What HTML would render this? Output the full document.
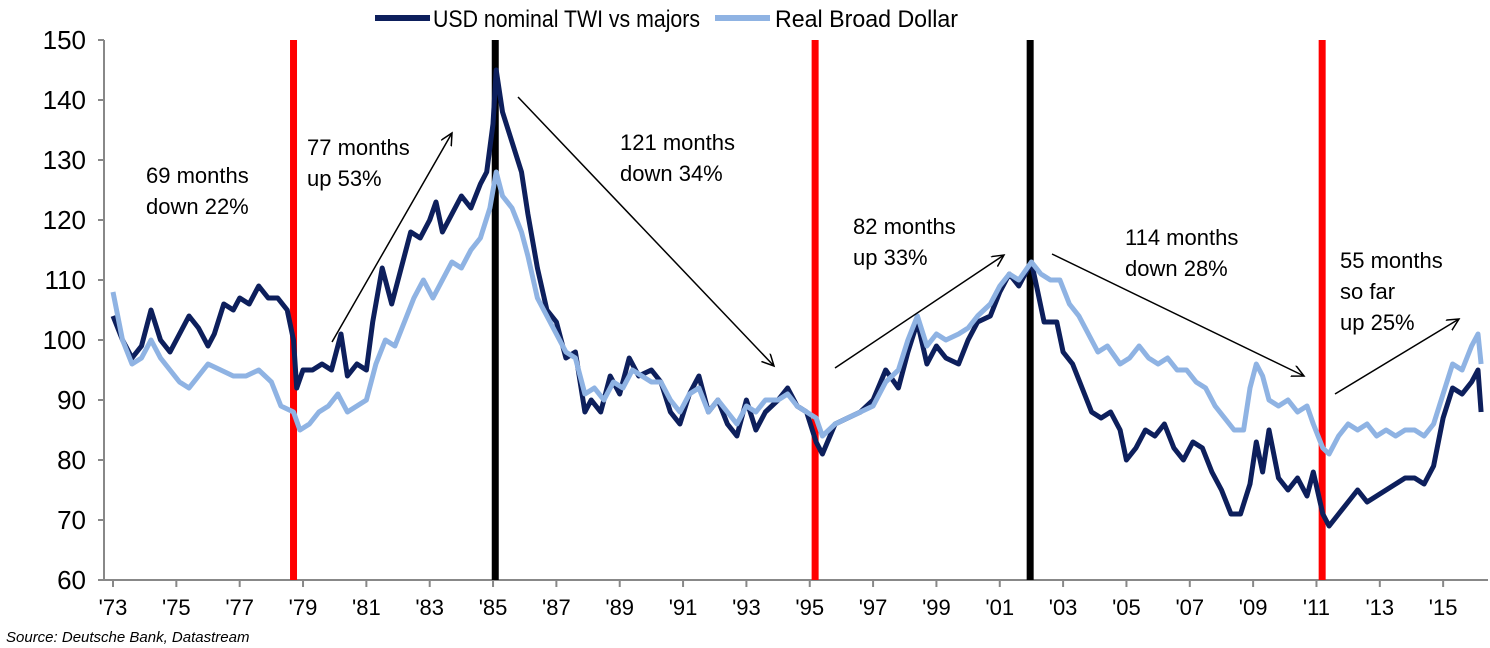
<!DOCTYPE html>
<html><head><meta charset="utf-8"><style>
body{margin:0;background:#fff;}
svg{display:block;font-family:"Liberation Sans",Arial,sans-serif;}
.ann{font-size:22px;fill:#000;}
</style></head><body>
<svg id="chart" width="1490" height="648">
<defs><marker id="ah" markerWidth="14" markerHeight="14" refX="12" refY="6" orient="auto" markerUnits="userSpaceOnUse"><path d="M0,0 L12,6 L0,12" fill="none" stroke="#000" stroke-width="1.5"/></marker></defs>
<g id="axes"></g>
<g id="vlines"></g>
<g id="series"></g>
<g>
<line x1="375" y1="18" x2="430" y2="18" stroke="#0d1f5c" stroke-width="6"/>
<text x="433" y="27" font-size="24" textLength="267" lengthAdjust="spacingAndGlyphs">USD nominal TWI vs majors</text>
<line x1="715" y1="18" x2="770" y2="18" stroke="#8fb3e3" stroke-width="6"/>
<text x="775" y="27" font-size="24" textLength="183" lengthAdjust="spacingAndGlyphs">Real Broad Dollar</text>
</g>
<g>
<text class="ann" x="146" y="183">69 months</text><text class="ann" x="146" y="214">down 22%</text>
<text class="ann" x="307" y="155">77 months</text><text class="ann" x="307" y="186">up 53%</text>
<text class="ann" x="620" y="150">121 months</text><text class="ann" x="620" y="181">down 34%</text>
<text class="ann" x="853" y="234">82 months</text><text class="ann" x="853" y="265">up 33%</text>
<text class="ann" x="1125" y="245">114 months</text><text class="ann" x="1125" y="276">down 28%</text>
<text class="ann" x="1340" y="268">55 months</text><text class="ann" x="1340" y="299">so far</text><text class="ann" x="1340" y="330">up 25%</text>
<line x1="332" y1="342" x2="452" y2="133" stroke="#000" stroke-width="1.5" marker-end="url(#ah)"/>
<line x1="518" y1="97" x2="774" y2="366" stroke="#000" stroke-width="1.5" marker-end="url(#ah)"/>
<line x1="835" y1="368" x2="1004" y2="255" stroke="#000" stroke-width="1.5" marker-end="url(#ah)"/>
<line x1="1052" y1="254" x2="1304" y2="376" stroke="#000" stroke-width="1.5" marker-end="url(#ah)"/>
<line x1="1335" y1="394" x2="1459" y2="319" stroke="#000" stroke-width="1.5" marker-end="url(#ah)"/>
</g>
<text x="6" y="642" font-size="15" font-style="italic">Source: Deutsche Bank, Datastream</text>
</svg>
<script>
const yTicks=[60,70,80,90,100,110,120,130,140,150];
const xTickYears=[1973,1975,1977,1979,1981,1983,1985,1987,1989,1991,1993,1995,1997,1999,2001,2003,2005,2007,2009,2011,2013,2015];
const eventYears=[1978.7,1985.07,1995.17,2001.96,2011.18];
const eventKinds=["trough","peak","trough","peak","trough"];
const nomT=[1973.0,1973.3,1973.6,1973.9,1974.2,1974.5,1974.8,1975.1,1975.4,1975.7,1976.0,1976.2,1976.5,1976.8,1977.0,1977.3,1977.6,1977.9,1978.2,1978.5,1978.7,1978.8,1979.0,1979.3,1979.6,1979.9,1980.2,1980.4,1980.7,1981.0,1981.2,1981.5,1981.8,1982.1,1982.4,1982.7,1983.0,1983.2,1983.4,1983.7,1984.0,1984.3,1984.6,1984.8,1985.0,1985.1,1985.3,1985.6,1985.9,1986.1,1986.4,1986.7,1987.0,1987.3,1987.6,1987.9,1988.1,1988.4,1988.7,1989.0,1989.3,1989.6,1990.0,1990.3,1990.6,1990.9,1991.2,1991.5,1991.8,1992.1,1992.4,1992.7,1993.0,1993.3,1993.6,1994.0,1994.3,1994.6,1994.9,1995.2,1995.4,1995.8,1996.2,1996.6,1997.0,1997.4,1997.8,1998.1,1998.4,1998.7,1999.0,1999.3,1999.7,2000.0,2000.3,2000.7,2001.0,2001.3,2001.6,2002.0,2002.2,2002.4,2002.8,2003.0,2003.3,2003.6,2003.9,2004.2,2004.5,2004.8,2005.0,2005.3,2005.6,2005.9,2006.2,2006.5,2006.8,2007.1,2007.4,2007.7,2008.0,2008.3,2008.6,2008.9,2009.1,2009.3,2009.5,2009.8,2010.1,2010.4,2010.7,2010.9,2011.2,2011.4,2011.7,2012.0,2012.3,2012.6,2012.9,2013.2,2013.5,2013.8,2014.1,2014.4,2014.7,2015.0,2015.3,2015.6,2015.9,2016.1,2016.2];
const nomV=[104,100,97,99,105,100,98,101,104,102,99,101,106,105,107,106,109,107,107,105,100,92,95,95,96,95,101,94,96,95,103,112,106,112,118,117,120,123,118,121,124,122,126,128,136,145,138,133,128,121,112,105,103,97,98,88,90,88,94,91,97,94,95,93,88,86,91,94,88,90,86,84,90,85,88,90,92,89,88,83,81,86,87,88,90,95,92,98,103,96,99,97,96,100,103,104,108,111,109,113,108,103,103,98,96,92,88,87,88,85,80,82,85,84,86,82,80,83,82,78,75,71,71,76,83,78,85,77,75,77,74,78,71,69,71,73,75,73,74,75,76,77,77,76,79,87,92,91,93,95,88];
const realT=[1973.0,1973.3,1973.6,1973.9,1974.2,1974.5,1974.8,1975.1,1975.4,1975.7,1976.0,1976.4,1976.8,1977.2,1977.6,1978.0,1978.3,1978.7,1978.9,1979.2,1979.5,1979.8,1980.1,1980.4,1980.7,1981.0,1981.3,1981.6,1981.9,1982.2,1982.5,1982.8,1983.1,1983.4,1983.7,1984.0,1984.3,1984.6,1984.9,1985.1,1985.3,1985.6,1985.9,1986.1,1986.4,1986.7,1987.0,1987.3,1987.6,1987.9,1988.2,1988.5,1988.8,1989.1,1989.4,1989.7,1990.0,1990.3,1990.6,1990.9,1991.2,1991.5,1991.8,1992.1,1992.4,1992.7,1993.0,1993.3,1993.6,1994.0,1994.3,1994.6,1994.9,1995.2,1995.4,1995.8,1996.2,1996.6,1997.0,1997.4,1997.8,1998.1,1998.4,1998.7,1999.0,1999.3,1999.7,2000.0,2000.3,2000.7,2001.0,2001.3,2001.6,2002.0,2002.3,2002.6,2002.9,2003.2,2003.5,2003.8,2004.1,2004.4,2004.8,2005.1,2005.4,2005.7,2006.0,2006.3,2006.6,2006.9,2007.2,2007.5,2007.8,2008.1,2008.4,2008.7,2008.9,2009.1,2009.3,2009.5,2009.8,2010.1,2010.4,2010.7,2010.9,2011.2,2011.4,2011.7,2012.0,2012.3,2012.6,2012.9,2013.2,2013.5,2013.8,2014.1,2014.4,2014.7,2015.0,2015.3,2015.6,2015.9,2016.1,2016.2];
const realV=[108,100,96,97,100,97,95,93,92,94,96,95,94,94,95,93,89,88,85,86,88,89,91,88,89,90,96,100,99,103,107,110,107,110,113,112,115,117,122,128,124,122,118,114,107,104,101,98,97,91,92,90,93,92,95,94,93,93,90,88,91,92,88,90,88,86,89,88,90,90,91,89,88,87,84,86,87,88,89,93,95,100,104,99,101,100,101,102,104,106,109,111,110,113,111,110,110,106,104,101,98,99,96,97,99,97,96,97,95,95,93,92,89,87,85,85,92,96,94,90,89,90,88,89,86,82,81,84,86,85,86,84,85,84,85,85,84,86,91,96,95,99,101,96];

const NS="http://www.w3.org/2000/svg";
const X=t=>113+(t-1973)*31.67;
const Y=v=>580-(v-60)*6;
function mk(tag,attrs,parent){const e=document.createElementNS(NS,tag);for(const k in attrs)e.setAttribute(k,attrs[k]);parent.appendChild(e);return e;}
const axes=document.getElementById('axes');
const ya=mk('line',{x1:104,y1:Y(150),x2:104,y2:Y(60),stroke:'#888',"stroke-width":2},axes);


const xa=mk('line',{x1:104,y1:Y(60),x2:1488,y2:Y(60),stroke:'#888',"stroke-width":2},axes);


yTicks.forEach(v=>{
  mk('line',{x1:98,y1:Y(v),x2:104,y2:Y(v),stroke:'#888',"stroke-width":2},axes);
  const t=mk('text',{x:86,y:Y(v)+9,"text-anchor":"end","font-size":26},axes);t.textContent=v;
  
  
});
xTickYears.forEach(yr=>{
  mk('line',{x1:X(yr),y1:Y(60),x2:X(yr),y2:Y(60)+7,stroke:'#888',"stroke-width":2},axes);
  const t=mk('text',{x:X(yr),y:Y(60)+35,"text-anchor":"middle","font-size":22},axes);t.textContent="'"+String(yr).slice(2);
  
  
});
const vg=document.getElementById('vlines');
eventYears.forEach((yr,i)=>{
  const l=mk('line',{x1:X(yr),y1:Y(150),x2:X(yr),y2:Y(60),stroke:eventKinds[i]==='peak'?'#000':'#f00',"stroke-width":7},vg);
  
  
});
const sg=document.getElementById('series');
function line(ts,vs,color,name){
  const d=ts.map((t,i)=>(i?'L':'M')+X(t).toFixed(1)+','+Y(vs[i]).toFixed(1)).join('');
  const p=mk('path',{d:d,fill:'none',stroke:color,"stroke-width":5,"stroke-linejoin":"round"},sg);
  
  
}
line(nomT,nomV,'#0d1f5c','nominal-twi-line');
line(realT,realV,'#8fb3e3','real-broad-dollar-line');
</script>
</body></html>
